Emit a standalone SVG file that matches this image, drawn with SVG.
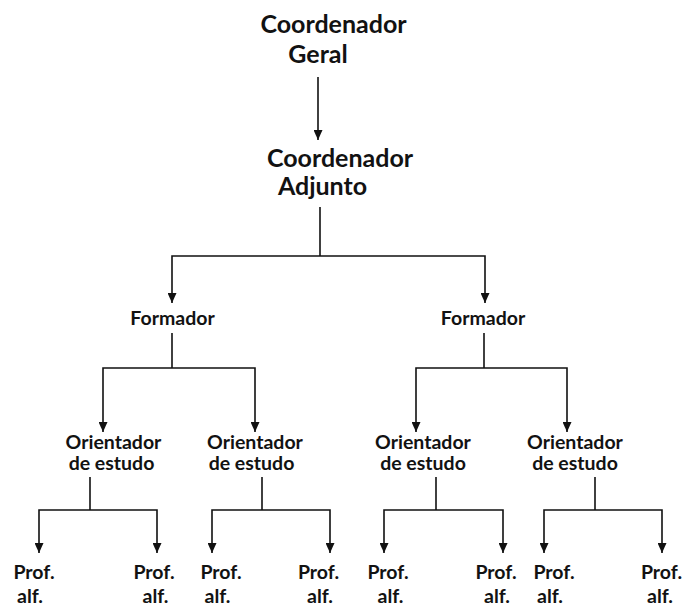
<svg xmlns="http://www.w3.org/2000/svg" width="685" height="606" viewBox="0 0 685 606">
<defs>
<marker id="ah" markerUnits="userSpaceOnUse" markerWidth="10" markerHeight="9" refX="10" refY="4.5" orient="auto">
<path d="M0,0 L10,4.5 L0,9 z" fill="#111"/>
</marker>
<style>
.t{font-family:Lato,"Open Sans","Liberation Sans",sans-serif;font-weight:bold;fill:#121212;text-anchor:middle}
.big{font-size:25px}
.mid{font-size:19.5px}
.ln{stroke:#111;stroke-width:1.6;fill:none}
.ar{stroke:#111;stroke-width:1.6;fill:none;marker-end:url(#ah)}
</style>
</defs>
<rect width="685" height="606" fill="#fff"/>
<g id="connectors">
<line class="ar" x1="318" y1="77" x2="318" y2="140"/>
<polyline class="ln" points="320,207 320,256"/>
<polyline class="ar" points="320,256 172,256 172,303"/>
<polyline class="ar" points="320,256 485,256 485,303"/>
<polyline class="ln" points="172,333 172,368"/>
<polyline class="ar" points="172,368 103,368 103,432"/>
<polyline class="ar" points="172,368 255,368 255,432"/>
<polyline class="ln" points="484,333 484,368"/>
<polyline class="ar" points="484,368 416,368 416,432"/>
<polyline class="ar" points="484,368 567,368 567,432"/>
<polyline class="ln" points="90,477 90,510"/>
<polyline class="ar" points="90,510 39,510 39,553"/>
<polyline class="ar" points="90,510 157,510 157,553"/>
<polyline class="ln" points="262,477 262,510"/>
<polyline class="ar" points="262,510 212,510 212,553"/>
<polyline class="ar" points="262,510 330,510 330,553"/>
<polyline class="ln" points="436,477 436,510"/>
<polyline class="ar" points="436,510 384,510 384,553"/>
<polyline class="ar" points="436,510 503,510 503,553"/>
<polyline class="ln" points="595,477 595,510"/>
<polyline class="ar" points="595,510 544,510 544,553"/>
<polyline class="ar" points="595,510 662,510 662,553"/>
</g>
<g id="coord-geral"><text class="t big" x="333.5" y="33">Coordenador</text><text class="t big" x="318" y="63">Geral</text></g>
<g id="coord-adjunto"><text class="t big" x="340" y="167">Coordenador</text><text class="t big" x="322.5" y="195">Adjunto</text></g>
<g id="formador-1"><text class="t mid" x="172.5" y="325">Formador</text></g>
<g id="formador-2"><text class="t mid" x="483" y="325">Formador</text></g>
<g id="orientador-1"><text class="t mid" x="113.5" y="449">Orientador</text><text class="t mid" x="111.5" y="470">de estudo</text></g>
<g id="orientador-2"><text class="t mid" x="255" y="449">Orientador</text><text class="t mid" x="251.5" y="470">de estudo</text></g>
<g id="orientador-3"><text class="t mid" x="423" y="449">Orientador</text><text class="t mid" x="423" y="470">de estudo</text></g>
<g id="orientador-4"><text class="t mid" x="575" y="449">Orientador</text><text class="t mid" x="575" y="470">de estudo</text></g>
<g id="prof-1"><text class="t mid" x="34" y="579">Prof.</text><text class="t mid" x="30" y="603">alf.</text></g>
<g id="prof-2"><text class="t mid" x="154" y="579">Prof.</text><text class="t mid" x="155.5" y="603">alf.</text></g>
<g id="prof-3"><text class="t mid" x="221" y="579">Prof.</text><text class="t mid" x="217.5" y="603">alf.</text></g>
<g id="prof-4"><text class="t mid" x="318.5" y="579">Prof.</text><text class="t mid" x="320" y="603">alf.</text></g>
<g id="prof-5"><text class="t mid" x="388" y="579">Prof.</text><text class="t mid" x="390.5" y="603">alf.</text></g>
<g id="prof-6"><text class="t mid" x="496" y="579">Prof.</text><text class="t mid" x="497" y="603">alf.</text></g>
<g id="prof-7"><text class="t mid" x="554" y="579">Prof.</text><text class="t mid" x="550" y="603">alf.</text></g>
<g id="prof-8"><text class="t mid" x="661.5" y="579">Prof.</text><text class="t mid" x="660" y="603">alf.</text></g>
</svg>
